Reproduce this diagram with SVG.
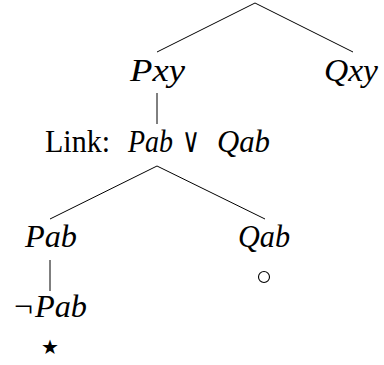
<svg xmlns="http://www.w3.org/2000/svg" width="384" height="365" viewBox="0 0 384 365">
  <style>
    .edge { stroke: #000; stroke-width: 1; fill: none; }
    .math { font-family: "Liberation Serif", "DejaVu Serif", serif; font-style: italic; font-size: 32px; fill: #000; }
    .rm { font-family: "Liberation Serif", "DejaVu Serif", serif; font-size: 32px; fill: #000; }
    .sym { font-family: "DejaVu Sans", sans-serif; fill: #000; }
  </style>
  <rect width="384" height="365" fill="#fff"/>

  <!-- tree edges -->
  <g id="edges">
    <line class="edge" x1="255" y1="3" x2="157" y2="52"/>
    <line class="edge" x1="255" y1="3" x2="353" y2="52"/>
    <line class="edge" x1="157" y1="93" x2="157" y2="124"/>
    <line class="edge" x1="157" y1="166" x2="50" y2="219"/>
    <line class="edge" x1="157" y1="166" x2="265" y2="219"/>
    <line class="edge" x1="50" y1="260" x2="50" y2="291"/>
  </g>

  <g id="node-pxy">
    <text class="math" x="130" y="81" textLength="55" lengthAdjust="spacingAndGlyphs">Pxy</text>
  </g>
  <g id="node-qxy">
    <text class="math" x="324" y="81" textLength="54" lengthAdjust="spacingAndGlyphs">Qxy</text>
  </g>
  <g id="node-link">
    <text class="rm" x="45" y="152" textLength="65" lengthAdjust="spacingAndGlyphs">Link:</text>
    <text class="math" x="128" y="152" textLength="45" lengthAdjust="spacingAndGlyphs">Pab</text>
    <text x="182" y="152" font-family="DejaVu Serif, serif" font-size="34" textLength="18" lengthAdjust="spacingAndGlyphs">∨</text>
    <text class="math" x="217" y="152" textLength="53" lengthAdjust="spacingAndGlyphs">Qab</text>
  </g>
  <g id="node-pab">
    <text class="math" x="25" y="247" textLength="52" lengthAdjust="spacingAndGlyphs">Pab</text>
  </g>
  <g id="node-qab">
    <text class="math" x="238" y="247" textLength="52" lengthAdjust="spacingAndGlyphs">Qab</text>
    <circle cx="264" cy="277" r="5.5" fill="none" stroke="#000" stroke-width="1.1"/>
  </g>
  <g id="node-notpab">
    <text class="rm" x="14" y="317" textLength="19" lengthAdjust="spacingAndGlyphs">¬</text>
    <text class="math" x="35" y="317" textLength="52" lengthAdjust="spacingAndGlyphs">Pab</text>
    <text class="sym" x="50" y="354" font-size="20" text-anchor="middle">★</text>
  </g>
</svg>
